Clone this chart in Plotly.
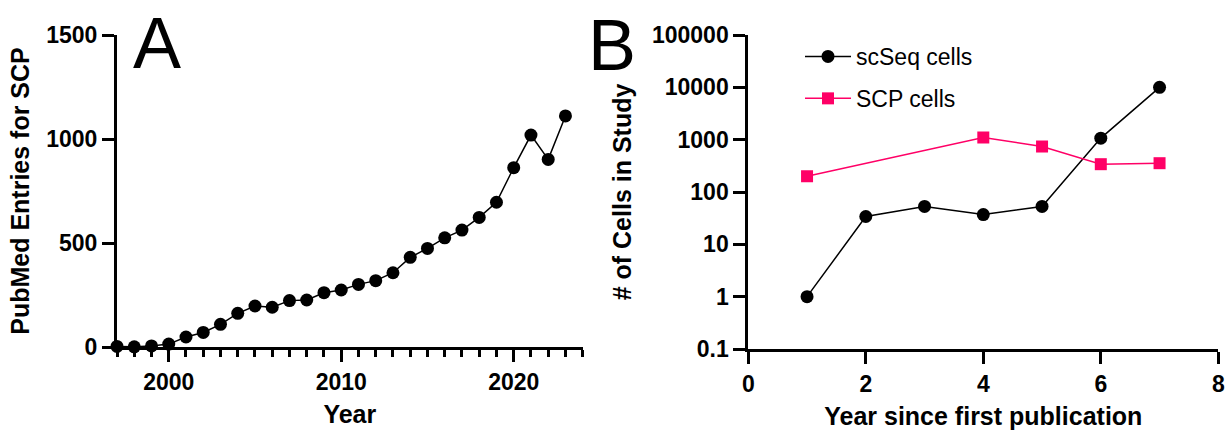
import plotly.graph_objects as go

# ---- Panel A data ----
years = [1997, 1998, 1999, 2000, 2001, 2002, 2003, 2004, 2005, 2006, 2007, 2008, 2009,
         2010, 2011, 2012, 2013, 2014, 2015, 2016, 2017, 2018, 2019, 2020, 2021, 2022, 2023]
pubmed_entries = [3, 1, 5, 14, 48, 70, 109, 162, 197, 191, 223, 226, 261,
                  274, 301, 319, 357, 431, 474, 525, 562, 623, 696, 862, 1019, 902, 1111]

# ---- Panel B data ----
scseq_year = [1, 2, 3, 4, 5, 6, 7]
scseq_cells = [1, 34, 53, 37, 53, 1070, 10000]
scp_year = [1, 4, 5, 6, 7]
scp_cells = [200, 1100, 740, 340, 355]

log_ticks = [0.1, 1, 10, 100, 1000, 10000, 100000]
log_labels = ["0.1", "1", "10", "100", "1000", "10000", "100000"]

FONT = "Liberation Sans, Arial, sans-serif"
PINK = "#FF0066"

W, H = 1231, 430


def px(x):
    return x / W


def py(y):
    return 1 - y / H


fig = go.Figure()

fig.add_trace(go.Scatter(
    x=years, y=pubmed_entries, mode="lines+markers", xaxis="x", yaxis="y",
    line=dict(color="black", width=1.5), marker=dict(color="black", size=13),
    cliponaxis=False, showlegend=False, name="PubMed"))

fig.add_trace(go.Scatter(
    x=scseq_year, y=scseq_cells, mode="lines+markers", xaxis="x2", yaxis="y2",
    line=dict(color="black", width=1.5), marker=dict(color="black", size=13, symbol="circle"),
    cliponaxis=False, name="scSeq cells", legendgroup="a"))

fig.add_trace(go.Scatter(
    x=scp_year, y=scp_cells, mode="lines+markers", xaxis="x2", yaxis="y2",
    line=dict(color=PINK, width=1.5), marker=dict(color=PINK, size=12, symbol="square"),
    cliponaxis=False, name="SCP cells", legendgroup="b"))

tickfont = dict(family=FONT, size=23, color="black", weight="bold")
titlefont = dict(family=FONT, size=25, color="black", weight="bold")
axis_common = dict(showline=True, linewidth=3, linecolor="black", ticks="outside",
                   ticklen=12, tickwidth=3, tickcolor="black", showgrid=False,
                   zeroline=False, tickfont=tickfont, fixedrange=True, automargin=False,
                   layer="below traces")

fig.update_layout(
    template="none",
    width=W, height=H,
    margin=dict(l=0, r=0, t=0, b=0, autoexpand=False),
    paper_bgcolor="white", plot_bgcolor="white",
    xaxis=dict(domain=[px(117), px(582.7)], range=[1997, 2024], anchor="y",
               tick0=2000, dtick=10,
               minor=dict(dtick=1, tick0=1997, ticks="outside", ticklen=7, tickwidth=3,
                          tickcolor="black", showgrid=False),
               title=dict(text="Year", font=titlefont, standoff=12),
               **axis_common),
    yaxis=dict(domain=[py(347), py(35)], range=[0, 1500], anchor="x",
               tickvals=[0, 500, 1000, 1500],
               title=dict(text="PubMed Entries for SCP", font=titlefont, standoff=10),
               **axis_common),
    xaxis2=dict(domain=[px(748.3), px(1218.3)], range=[0, 8], anchor="y2",
                tickvals=[0, 2, 4, 6, 8],
                title=dict(text="Year since first publication", font=titlefont, standoff=12),
                **axis_common),
    yaxis2=dict(domain=[py(349), py(35)], type="log", range=[-1, 5], anchor="x2",
                tickvals=log_ticks, ticktext=log_labels,
                title=dict(text="# of Cells in Study", font=titlefont, standoff=14),
                **axis_common),
    legend=dict(x=px(800), y=py(35), xanchor="left", yanchor="top",
                font=dict(family=FONT, size=23, color="black"),
                traceorder="grouped", tracegroupgap=9, itemwidth=46,
                bgcolor="rgba(0,0,0,0)"),
    annotations=[
        dict(text="A", x=px(157), y=py(43), xref="paper", yref="paper",
             showarrow=False, font=dict(family=FONT, size=72, color="black"),
             xanchor="center", yanchor="middle"),
        dict(text="B", x=px(612), y=py(45), xref="paper", yref="paper",
             showarrow=False, font=dict(family=FONT, size=72, color="black"),
             xanchor="center", yanchor="middle"),
    ],
)

fig.write_html("out.html", config={"displayModeBar": False},
               post_script="document.body.style.margin='0';")
